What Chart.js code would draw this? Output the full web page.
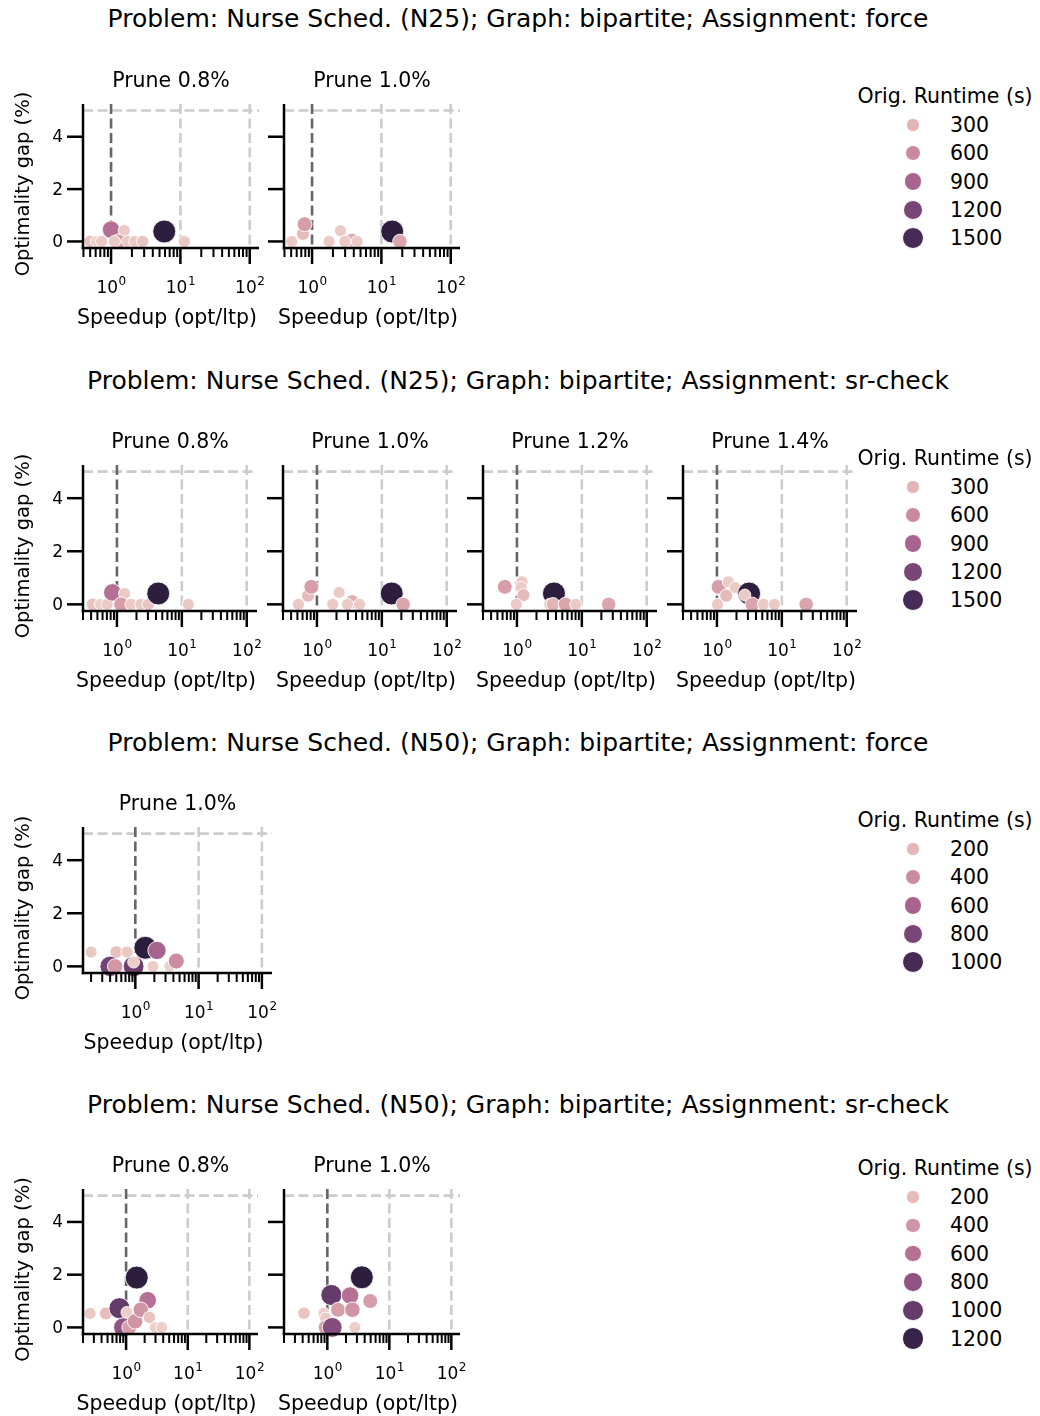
<!DOCTYPE html>
<html><head><meta charset="utf-8">
<script src="https://cdn.jsdelivr.net/npm/chart.js@4.4.0/dist/chart.umd.min.js"></script>
<style>
html,body{margin:0;padding:0;background:#fff;}
body{width:1040px;height:1416px;position:relative;overflow:hidden;font-family:"DejaVu Sans",sans-serif;color:#000;}
canvas{position:absolute;}
.sup{position:absolute;left:0;width:1036px;text-align:center;font-size:25px;line-height:28px;white-space:nowrap;}
.leg{position:absolute;font-size:20.5px;white-space:nowrap;}
.legtitle{position:absolute;width:220px;text-align:center;}
.dot{position:absolute;border-radius:50%;border:1px solid #fff;box-sizing:border-box;}
.lab{position:absolute;line-height:22px;}
</style></head><body>
<script>
// ---------------- DATA ----------------
const SUPTITLES = [
  "Problem: Nurse Sched. (N25); Graph: bipartite; Assignment: force",
  "Problem: Nurse Sched. (N25); Graph: bipartite; Assignment: sr-check",
  "Problem: Nurse Sched. (N50); Graph: bipartite; Assignment: force",
  "Problem: Nurse Sched. (N50); Graph: bipartite; Assignment: sr-check"
];
const X_LABEL = "Speedup (opt/ltp)";
const Y_LABEL = "Optimality gap (%)";
const LEGEND_TITLE = "Orig. Runtime (s)";
const Y_TICKS = [0, 2, 4];
const X_MAJOR_TICKS = [1, 10, 100];
const REF_X = [1, 10, 100];
const REF_Y = 5;

// legend tick values per figure
const legend_n25_force = [300, 600, 900, 1200, 1500];
const legend_n25_sr = [300, 600, 900, 1200, 1500];
const legend_n50_force = [200, 400, 600, 800, 1000];
const legend_n50_sr = [200, 400, 600, 800, 1000, 1200];

// Figure 1: N25 force
const n25f_p08_speedup = [0.50, 0.61, 0.73, 1.00, 1.55, 1.27, 1.12, 1.74, 2.20, 2.86, 5.85, 11.4];
const n25f_p08_gap     = [0, 0, 0, 0.45, 0.42, 0, 0, 0, 0, 0, 0.38, 0];
const n25f_p08_runtime = [200, 100, 150, 800, 150, 450, 150, 150, 150, 180, 1650, 160];

const n25f_p10_speedup = [0.51, 0.74, 0.78, 1.76, 2.57, 3.8, 2.97, 4.47, 14.3, 18.5];
const n25f_p10_gap     = [0, 0.29, 0.66, 0, 0.41, 0.05, 0, 0, 0.38, 0];
const n25f_p10_runtime = [150, 250, 450, 150, 150, 350, 150, 150, 1650, 400];

// Figure 2: N25 sr-check
const n25s_p08_speedup = [0.42, 0.55, 0.71, 0.85, 1.31, 1.16, 1.65, 2.33, 3.05, 4.33, 12.6];
const n25s_p08_gap     = [0, 0, 0, 0.45, 0.41, 0, 0, 0, 0, 0.41, 0];
const n25s_p08_runtime = [200, 100, 150, 800, 150, 450, 150, 150, 180, 1650, 160];

const n25s_p10_speedup = [0.52, 0.73, 0.82, 1.75, 2.2, 3.5, 2.95, 4.53, 14.2, 21.3];
const n25s_p10_gap     = [0, 0.33, 0.66, 0, 0.45, 0.1, 0, 0, 0.41, 0];
const n25s_p10_runtime = [150, 250, 450, 150, 150, 350, 150, 150, 1650, 400];

const n25s_p12_speedup = [0.65, 1.2, 1.16, 1.26, 0.98, 3.72, 3.2, 3.6, 5.6, 8.1, 25.9];
const n25s_p12_gap     = [0.66, 0.85, 0.64, 0.35, 0, 0.41, 0, 0, 0, 0, 0];
const n25s_p12_runtime = [450, 150, 150, 250, 150, 1650, 150, 300, 400, 150, 400];

const n25s_p14_speedup = [1.06, 1.5, 1.9, 1.39, 1.02, 3.13, 2.69, 3.5, 5.2, 7.66, 23.7];
const n25s_p14_gap     = [0.66, 0.85, 0.63, 0.33, 0, 0.41, 0.35, 0, 0, 0, 0];
const n25s_p14_runtime = [450, 150, 150, 250, 150, 1650, 150, 400, 150, 150, 400];

// Figure 3: N50 force
const n50f_p10_speedup = [0.20, 0.50, 0.74, 0.40, 0.48, 0.94, 0.94, 1.44, 2.2, 1.9, 3.48, 4.44];
const n50f_p10_gap     = [0.54, 0.54, 0.54, 0, 0, 0, 0.16, 0.70, 0.60, 0, 0, 0.20];
const n50f_p10_runtime = [120, 150, 120, 820, 350, 850, 100, 1100, 600, 100, 80, 400];

// Figure 4: N50 sr-check
const n50s_p08_speedup = [0.26, 0.47, 0.78, 1.03, 0.90, 1.13, 1.40, 1.49, 2.24, 1.73, 2.39, 2.95, 3.79];
const n50s_p08_gap     = [0.53, 0.53, 0.73, 0.57, 0, 0, 0.23, 1.89, 1.03, 0.67, 0.38, 0, 0];
const n50s_p08_runtime = [120, 180, 1000, 100, 800, 350, 400, 1250, 600, 400, 150, 80, 100];

const n50s_p10_speedup = [0.42, 0.88, 0.94, 0.94, 1.20, 1.16, 1.49, 2.33, 2.54, 4.92, 3.60, 2.78];
const n50s_p10_gap     = [0.54, 0.54, 0.35, 0, 0, 1.23, 0.67, 1.21, 0.67, 1.00, 1.90, 0];
const n50s_p10_runtime = [150, 100, 120, 350, 850, 1000, 350, 600, 400, 350, 1250, 100];

// ---------------- LAYOUT / STYLE ----------------
const FIGS = [
  {title: SUPTITLES[0], titleY: 19, top: 104, bottom: 248, xmin: 0.394, xmax: 136, legend: legend_n25_force, legTop: 96,
   panels: [
    {name: "Prune 0.8%", L: 83, R: 259, sp: n25f_p08_speedup, gap: n25f_p08_gap, rt: n25f_p08_runtime},
    {name: "Prune 1.0%", L: 284, R: 460, sp: n25f_p10_speedup, gap: n25f_p10_gap, rt: n25f_p10_runtime}]},
  {title: SUPTITLES[1], titleY: 381, top: 465, bottom: 611, xmin: 0.336, xmax: 144, legend: legend_n25_sr, legTop: 458,
   panels: [
    {name: "Prune 0.8%", L: 83, R: 257, sp: n25s_p08_speedup, gap: n25s_p08_gap, rt: n25s_p08_runtime},
    {name: "Prune 1.0%", L: 283, R: 457, sp: n25s_p10_speedup, gap: n25s_p10_gap, rt: n25s_p10_runtime},
    {name: "Prune 1.2%", L: 483, R: 657, sp: n25s_p12_speedup, gap: n25s_p12_gap, rt: n25s_p12_runtime},
    {name: "Prune 1.4%", L: 683, R: 857, sp: n25s_p14_speedup, gap: n25s_p14_gap, rt: n25s_p14_runtime}]},
  {title: SUPTITLES[2], titleY: 743, top: 827, bottom: 973, xmin: 0.149, xmax: 144.5, legend: legend_n50_force, legTop: 820,
   panels: [
    {name: "Prune 1.0%", L: 83, R: 272, sp: n50f_p10_speedup, gap: n50f_p10_gap, rt: n50f_p10_runtime}]},
  {title: SUPTITLES[3], titleY: 1105, top: 1189, bottom: 1334, xmin: 0.2, xmax: 138, legend: legend_n50_sr, legTop: 1168,
   panels: [
    {name: "Prune 0.8%", L: 83, R: 258, sp: n50s_p08_speedup, gap: n50s_p08_gap, rt: n50s_p08_runtime},
    {name: "Prune 1.0%", L: 284, R: 460, sp: n50s_p10_speedup, gap: n50s_p10_gap, rt: n50s_p10_runtime}]}
];
const YMIN = -0.25, YMAX = 5.25;
const FONT = '"DejaVu Sans", sans-serif';
const DMIN = 11.5; // smallest marker diameter (px)
const LABEL_PX = 20.5, YLABEL_PX = 19.5, TICK_PX = 17, SUP_PX = 12;

function cubehelix(t) { // seaborn default sequential cubehelix, t in [0,1]
  t = Math.max(0, Math.min(1, t));
  const x = 0.85 - 0.7 * t;
  const a = 0.8 * x * (1 - x) / 2;
  const phi = 2 * Math.PI * (0.4 * x);
  const c = Math.cos(phi), s = Math.sin(phi);
  const f = v => Math.round(255 * Math.max(0, Math.min(1, v)));
  const r = x + a * (-0.14861 * c + 1.78277 * s);
  const g = x + a * (-0.29227 * c - 0.90649 * s);
  const b = x + a * (1.97294 * c);
  return `rgb(${f(r)},${f(g)},${f(b)})`;
}
function diam(t) { return DMIN * Math.sqrt(1 + 3 * Math.max(0, Math.min(1, t))); }

const axesDecor = {
  id: 'axesDecor',
  beforeDatasetsDraw(chart, args, o) {
    const {ctx, chartArea: a, scales: {x, y}} = chart;
    ctx.save();
    ctx.lineWidth = 2.6;
    ctx.setLineDash([10, 4.5]);
    ctx.lineCap = 'butt';
    ctx.strokeStyle = '#cccccc';
    const yy = y.getPixelForValue(REF_Y);
    ctx.beginPath(); ctx.moveTo(a.left, yy); ctx.lineTo(a.right, yy); ctx.stroke();
    REF_X.forEach(v => {
      const xx = x.getPixelForValue(v);
      ctx.strokeStyle = v === 1 ? '#666666' : '#cccccc';
      ctx.beginPath(); ctx.moveTo(xx, a.top); ctx.lineTo(xx, a.bottom); ctx.stroke();
    });
    ctx.restore();
  },
  afterDraw(chart, args, o) {
    const {ctx, chartArea: a, scales: {x, y}} = chart;
    ctx.save();
    ctx.strokeStyle = '#000'; ctx.fillStyle = '#000';
    ctx.lineWidth = 2.5; ctx.lineCap = 'butt';
    ctx.beginPath(); ctx.moveTo(a.left, a.top); ctx.lineTo(a.left, a.bottom + 1.25); ctx.stroke();
    ctx.beginPath(); ctx.moveTo(a.left - 1.25, a.bottom); ctx.lineTo(a.right, a.bottom); ctx.stroke();
    ctx.font = `${TICK_PX}px ${FONT}`; ctx.textAlign = 'right'; ctx.textBaseline = 'middle';
    Y_TICKS.forEach(v => {
      const yy = y.getPixelForValue(v);
      ctx.beginPath(); ctx.moveTo(a.left - 16, yy); ctx.lineTo(a.left, yy); ctx.stroke();
      if (o.ylabel) ctx.fillText(String(v), a.left - 20, yy + 1);
    });
    const lo = Math.floor(Math.log10(x.min)), hi = Math.ceil(Math.log10(x.max));
    for (let e = lo; e <= hi; e++) {
      for (let k = 1; k <= 9; k++) {
        const v = k * Math.pow(10, e);
        if (v < x.min * 0.999 || v > x.max * 1.001) continue;
        const xx = x.getPixelForValue(v);
        const len = k === 1 ? 16 : 9;
        ctx.lineWidth = k === 1 ? 2.5 : 2;
        ctx.beginPath(); ctx.moveTo(xx, a.bottom); ctx.lineTo(xx, a.bottom + len); ctx.stroke();
      }
    }
    X_MAJOR_TICKS.forEach(v => {
      if (v < x.min || v > x.max) return;
      const xx = x.getPixelForValue(v);
      const base = '10', ex = String(Math.round(Math.log10(v)));
      ctx.font = `${TICK_PX}px ${FONT}`;
      const w1 = ctx.measureText(base).width;
      ctx.font = `${SUP_PX}px ${FONT}`;
      const w2 = ctx.measureText(ex).width;
      const x0 = xx - (w1 + w2) / 2;
      ctx.textAlign = 'left'; ctx.textBaseline = 'alphabetic';
      ctx.font = `${TICK_PX}px ${FONT}`;
      ctx.fillText(base, x0, a.bottom + 45);
      ctx.font = `${SUP_PX}px ${FONT}`;
      ctx.fillText(ex, x0 + w1 + 0.5, a.bottom + 37);
    });
    ctx.font = `${LABEL_PX}px ${FONT}`; ctx.textAlign = 'center'; ctx.textBaseline = 'alphabetic';
    ctx.fillText(X_LABEL, o.xlabelX, a.bottom + 76);
    ctx.fillText(o.name, (a.left + a.right) / 2, a.top - 17);
    if (o.ylabel) {
      ctx.save();
      ctx.font = `${YLABEL_PX}px ${FONT}`;
      ctx.translate(29, (a.top + a.bottom) / 2 + 8);
      ctx.rotate(-Math.PI / 2);
      ctx.fillText(Y_LABEL, 0, 0);
      ctx.restore();
    }
    ctx.restore();
  }
};

const PADL = 83, PADT = 60, PADR = 20, PADB = 90;

FIGS.forEach((fig, fi) => {
  const st = document.createElement('div');
  st.className = 'sup'; st.textContent = fig.title; st.style.top = (fig.titleY - 14) + 'px';
  document.body.appendChild(st);

  const allRt = fig.panels.flatMap(p => p.rt);
  const rmin = Math.min(...allRt), rmax = Math.max(...allRt);
  const tnorm = v => (v - rmin) / (rmax - rmin);

  fig.panels.forEach((p, pi) => {
    const cv = document.createElement('canvas');
    const W = (p.R - p.L) + PADL + PADR, H = (fig.bottom - fig.top) + PADT + PADB;
    cv.width = W; cv.height = H;
    cv.style.left = (p.L - PADL) + 'px'; cv.style.top = (fig.top - PADT) + 'px';
    cv.style.width = W + 'px'; cv.style.height = H + 'px';
    document.body.appendChild(cv);
    const pts = p.sp.map((s, i) => ({x: s, y: p.gap[i]}));
    new Chart(cv, {
      type: 'scatter',
      data: {datasets: [{
        data: pts,
        pointRadius: p.rt.map(r => diam(tnorm(r)) / 2),
        pointBackgroundColor: p.rt.map(r => cubehelix(tnorm(r))),
        pointBorderColor: '#ffffff',
        pointBorderWidth: 0.9,
        clip: false
      }]},
      options: {
        responsive: false, animation: false, devicePixelRatio: 1,
        layout: {padding: {left: PADL, top: PADT, right: PADR, bottom: PADB}},
        scales: {
          x: {type: 'logarithmic', min: fig.xmin, max: fig.xmax, display: false},
          y: {type: 'linear', min: YMIN, max: YMAX, display: false}
        },
        plugins: {
          legend: {display: false}, tooltip: {enabled: false},
          axesDecor: {name: p.name, ylabel: pi === 0, xlabelX: PADL + (p.R - p.L) / 2 - 4}
        }
      },
      plugins: [axesDecor]
    });
  });

  const lt = document.createElement('div');
  lt.className = 'leg legtitle'; lt.textContent = LEGEND_TITLE;
  lt.style.left = (945 - 110) + 'px'; lt.style.top = (fig.legTop - 12) + 'px';
  document.body.appendChild(lt);
  fig.legend.forEach((v, i) => {
    const cy = fig.legTop + 29 + i * 28.3;
    const d = diam(tnorm(v));
    const dot = document.createElement('div');
    dot.className = 'dot';
    dot.style.width = d + 'px'; dot.style.height = d + 'px';
    dot.style.left = (913 - d / 2) + 'px'; dot.style.top = (cy - d / 2) + 'px';
    dot.style.background = cubehelix(tnorm(v));
    document.body.appendChild(dot);
    const lb = document.createElement('div');
    lb.className = 'leg lab'; lb.textContent = String(v);
    lb.style.left = '950px'; lb.style.top = (cy - 11) + 'px';
    document.body.appendChild(lb);
  });
});
</script>
</body></html>
